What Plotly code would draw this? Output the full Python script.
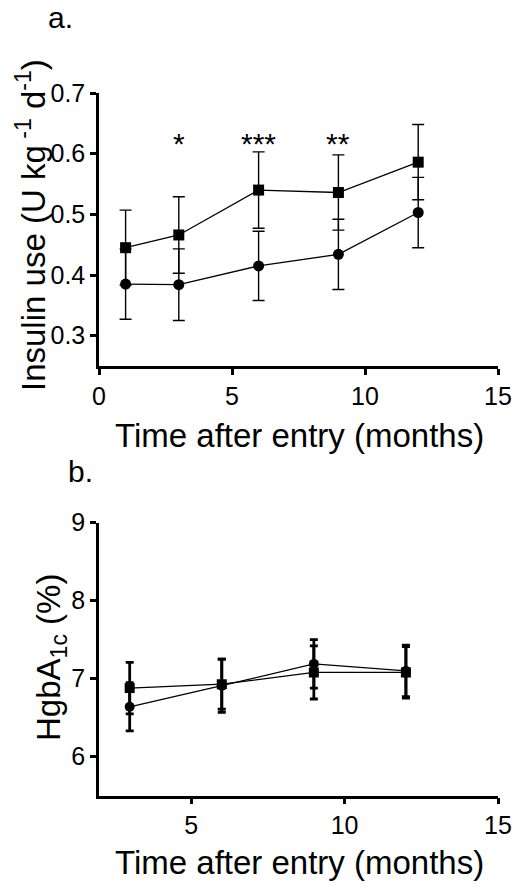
import plotly.graph_objects as go

# ---- data ----
months_a = [1, 3, 6, 9, 12]
insulin_sq = [0.445, 0.466, 0.540, 0.536, 0.586]
insulin_sq_sd = [0.062, 0.063, 0.063, 0.062, 0.062]
insulin_ci = [0.385, 0.384, 0.415, 0.434, 0.503]
insulin_ci_sd = [0.058, 0.059, 0.057, 0.058, 0.058]

sig_months = [3, 6, 9]
sig_labels = ["*", "***", "**"]
sig_level = 0.617

months_b = [3, 6, 9, 12]
hba_ci = [6.64, 6.91, 7.19, 7.10]
hba_ci_sd = [0.31, 0.34, 0.31, 0.33]
hba_sq = [6.88, 6.93, 7.08, 7.08]
hba_sq_sd = [0.33, 0.32, 0.34, 0.33]

W, H = 518, 887
FONT = "Liberation Sans, Arial, sans-serif"


def fx(px):
    return px / W


def fy(py):
    return 1 - py / H


fig = go.Figure()

# panel a
fig.add_trace(go.Scatter(
    x=months_a, y=insulin_sq, mode="lines+markers",
    line=dict(color="black", width=1.3),
    marker=dict(symbol="square", size=11, color="black"),
    error_y=dict(type="data", array=insulin_sq_sd, color="black", thickness=1.4, width=6),
    xaxis="x", yaxis="y", showlegend=False))
fig.add_trace(go.Scatter(
    x=months_a, y=insulin_ci, mode="lines+markers",
    line=dict(color="black", width=1.3),
    marker=dict(symbol="circle", size=11, color="black"),
    error_y=dict(type="data", array=insulin_ci_sd, color="black", thickness=1.4, width=6),
    xaxis="x", yaxis="y", showlegend=False))

# panel b
fig.add_trace(go.Scatter(
    x=months_b, y=hba_ci, mode="lines+markers",
    line=dict(color="black", width=1.3),
    marker=dict(symbol="circle", size=10, color="black"),
    error_y=dict(type="data", array=hba_ci_sd, color="black", thickness=2.8, width=4),
    xaxis="x2", yaxis="y2", showlegend=False))
fig.add_trace(go.Scatter(
    x=months_b, y=hba_sq, mode="lines+markers",
    line=dict(color="black", width=1.3),
    marker=dict(symbol="square", size=10, color="black"),
    error_y=dict(type="data", array=hba_sq_sd, color="black", thickness=2.8, width=4),
    xaxis="x2", yaxis="y2", showlegend=False))

axis_common = dict(showline=True, linecolor="black", linewidth=2.5, ticks="outside",
                   ticklen=6, tickwidth=2.5, tickcolor="black", showgrid=False,
                   zeroline=False, automargin=False,
                   tickfont=dict(family=FONT, size=25, color="black"))

fig.update_layout(
    width=W, height=H,
    margin=dict(l=0, r=0, t=0, b=0),
    paper_bgcolor="white", plot_bgcolor="white",
    font=dict(family=FONT, color="black"),
    xaxis=dict(domain=[fx(99), fx(498)], range=[0, 15], tickvals=[0, 5, 10, 15],
               anchor="y", **axis_common),
    yaxis=dict(domain=[fy(366), fy(93)], range=[0.25, 0.7],
               tickvals=[0.3, 0.4, 0.5, 0.6, 0.7],
               ticktext=["0.3", "0.4", "0.5", "0.6", "0.7"], anchor="x", **axis_common),
    xaxis2=dict(domain=[fx(99), fx(498)], range=[2, 15], tickvals=[5, 10, 15],
                anchor="y2", **axis_common),
    yaxis2=dict(domain=[fy(795.7), fy(522.7)], range=[5.5, 9], tickvals=[6, 7, 8, 9],
                anchor="x2", **axis_common),
)


def label(text, x, y, size=33, angle=0, xref="paper", yref="paper"):
    return dict(text=text, x=x, y=y, xref=xref, yref=yref, textangle=angle,
                xanchor="center", yanchor="middle", showarrow=False,
                font=dict(size=size, family=FONT, color="black"))


ann = [
    label("a.", fx(60), fy(17), size=30),
    label("b.", fx(80), fy(471), size=30),
    label("Insulin use (U kg<sup> -1</sup> d<sup>-1</sup>)", fx(31), fy(225), angle=-90),
    label("Time after entry (months)", fx(299), fy(436)),
    label("HgbA<sub>1c</sub> (%)", fx(51), fy(658), angle=-90),
    label("Time after entry (months)", fx(299), fy(862)),
]
for m, s in zip(sig_months, sig_labels):
    ann.append(label(s, m, sig_level, size=30, xref="x", yref="y"))
fig.update_layout(annotations=ann)

fig.write_html("out.html", config={"displayModeBar": False},
               post_script="document.body.style.margin='0';")
